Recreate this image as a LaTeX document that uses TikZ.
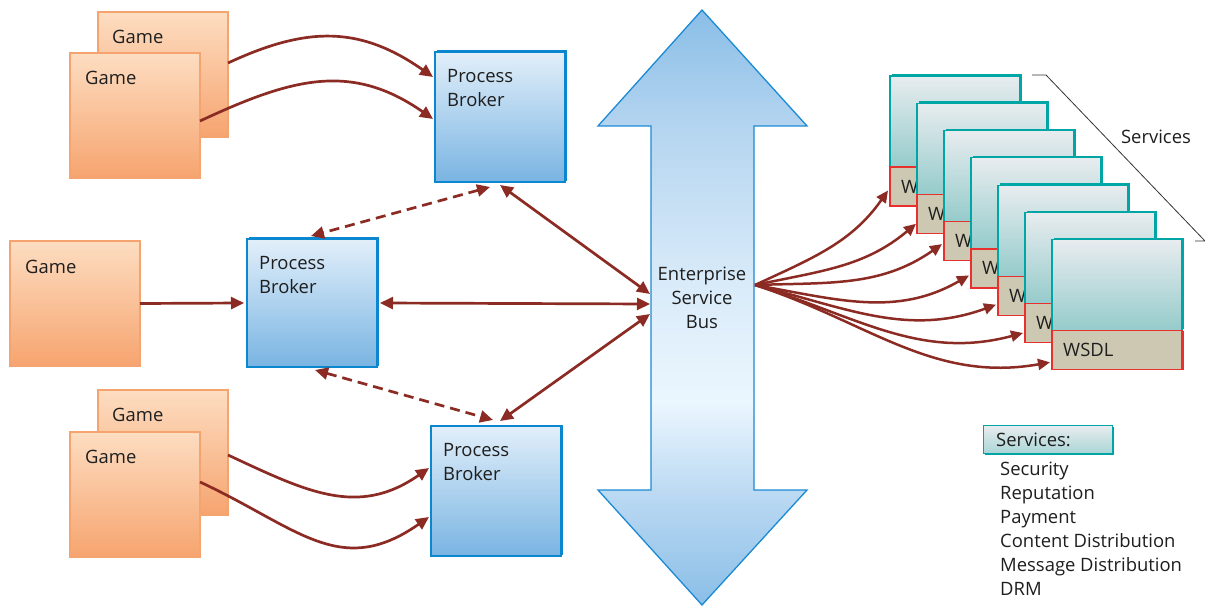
\documentclass[tikz,border=0pt]{standalone}
\usepackage{fontspec}
\setmainfont{Open Sans}
\usetikzlibrary{arrows.meta,shadows,calc}
\definecolor{arr}{HTML}{8B2B23}
\definecolor{txt}{HTML}{1E1E1E}
\definecolor{gameedge}{HTML}{F5A36F}
\definecolor{gametop}{HTML}{FDDDC1}
\definecolor{gamebot}{HTML}{F6A46F}
\definecolor{pbedge}{HTML}{0B87D0}
\definecolor{pbtop}{HTML}{E2EFFA}
\definecolor{pbbot}{HTML}{79B4E2}
\definecolor{esbedge}{HTML}{1A8AD4}
\definecolor{esbdark}{HTML}{8ABEE7}
\definecolor{esbbot}{HTML}{B9D8F2}
\definecolor{esblight}{HTML}{EBF6FE}
\definecolor{esbmid}{HTML}{D9EBF9}
\definecolor{esbtop}{HTML}{B5D5F0}
\definecolor{teal}{HTML}{00A5A5}
\definecolor{svctop}{HTML}{E8ECEF}
\definecolor{svcbot}{HTML}{95CBCB}
\definecolor{wsdlfill}{HTML}{CDC8B2}
\definecolor{wsdledge}{HTML}{E8302F}
\pgfdeclareverticalshading{esbshade}{100bp}{color(0bp)=(esbdark); color(25bp)=(esbdark); color(34bp)=(esbbot); color(42bp)=(esblight); color(52bp)=(esbmid); color(65bp)=(esbtop); color(75bp)=(esbdark); color(100bp)=(esbdark)}
\begin{document}
\begin{tikzpicture}[x=1bp,y=1bp,
  font=\fontsize{18.5}{24}\selectfont,
  gamebox/.style={draw=gameedge, line width=1.5bp, top color=gametop, bottom color=gamebot,
    minimum width=130bp, minimum height=125bp, anchor=north west, inner sep=0pt, outer sep=0pt},
  pbbox/.style={draw=pbedge, line width=1.2bp, top color=pbtop, bottom color=pbbot,
    general shadow={fill=pbedge, shadow xshift=2bp, shadow yshift=1.5bp},
    minimum width=130bp, minimum height=130bp, anchor=north west, inner sep=0pt, outer sep=0pt},
  svcbox/.style={draw=teal, line width=1.2bp, top color=svctop, bottom color=svcbot,
    general shadow={fill=teal, shadow xshift=1.8bp, shadow yshift=1.8bp},
    minimum width=130bp, minimum height=91bp, anchor=north west, inner sep=0pt, outer sep=0pt},
  wsdlbox/.style={draw=wsdledge, line width=1.2bp, fill=wsdlfill,
    general shadow={fill=wsdledge, shadow xshift=1.5bp, shadow yshift=0bp},
    minimum width=130bp, minimum height=39bp, anchor=north west, inner sep=0pt, outer sep=0pt},
  boxtext/.style={anchor=north west, inner sep=0pt, align=left, text=txt},
  conn/.style={draw=arr, line width=2.7bp, -{Triangle[length=13bp,width=12bp]}},
  dconn/.style={draw=arr, line width=2.7bp, {Triangle[length=13bp,width=12bp]}-{Triangle[length=13bp,width=12bp]}},
  dashconn/.style={dconn, dash pattern=on 10bp off 6bp},
  svcarrow/.style={draw=arr, line width=2.5bp, -{Triangle[length=12bp,width=11bp]}}
]
\useasboundingbox (0,0) rectangle (1205,-609);

% ---------- Enterprise Service Bus (double arrow) ----------
\path[draw=esbedge, line width=1.3bp, shading=esbshade]
  (702,-10) -- (807,-126) -- (754,-126) -- (754,-490) -- (807,-490) -- (702,-605)
  -- (598,-490) -- (651,-490) -- (651,-126) -- (598,-126) -- cycle;
\node[text=txt, align=center, inner sep=0pt] (esb) at (702,-298) {Enterprise\\Service\\Bus};
\coordinate (esbL1) at (650,-294);
\coordinate (esbL2) at (650,-304);
\coordinate (esbL3) at (650,-314);
\coordinate (esbR) at (755,-285);

% ---------- Games ----------
\node[gamebox] (g1b) at (98,-12) {};
\node[boxtext] (g1bt) at ($(g1b.north west)+(14,-18)$) {Game};
\node[gamebox] (g1f) at (70,-53) {};
\node[boxtext] (g1ft) at ($(g1f.north west)+(15,-18)$) {Game};

\node[gamebox] (g2) at (10,-241) {};
\node[boxtext] (g2t) at ($(g2.north west)+(15,-19)$) {Game};

\node[gamebox] (g3b) at (98,-390) {};
\node[boxtext] (g3bt) at ($(g3b.north west)+(14,-18)$) {Game};
\node[gamebox] (g3f) at (70,-432) {};
\node[boxtext] (g3ft) at ($(g3f.north west)+(15,-18)$) {Game};

% ---------- Process brokers ----------
\node[pbbox] (pb1) at (435,-52) {};
\node[boxtext] (pb1t) at ($(pb1.north west)+(12,-17)$) {Process\\Broker};
\node[pbbox, minimum height=128bp] (pb2) at (247,-239) {};
\node[boxtext] (pb2t) at ($(pb2.north west)+(12,-17)$) {Process\\Broker};
\node[pbbox] (pb3) at (431,-426) {};
\node[boxtext] (pb3t) at ($(pb3.north west)+(12,-17)$) {Process\\Broker};

% ---------- Game -> broker connectors ----------
\draw[conn] ($(g1b.north east)+(0,-51)$) to[out=25, in=145, looseness=1.1] ($(pb1.north west)+(-2,-25)$);
\draw[conn] ($(g1f.north east)+(0,-68)$) to[out=25, in=145, looseness=1.1] ($(pb1.north west)+(-2,-67)$);
\draw[conn] (g2.east) -- ($(pb2.west)+(-3,0)$);
\draw[conn] ($(g3b.north east)+(0,-65)$) to[out=-25, in=-145, looseness=1.1] ($(pb3.north west)+(-2,-42)$);
\draw[conn] ($(g3f.north east)+(0,-50)$) to[out=-25, in=-145, looseness=1.2] ($(pb3.north west)+(-2,-91)$);

% ---------- broker <-> broker / ESB ----------
\draw[dashconn] ($(pb1.south)+(-10,-5)$) -- ($(pb2.north)+(-1,3)$);
\draw[dashconn] ($(pb2.south)+(3,-3)$) -- ($(pb3.north)+(-3,6)$);
\draw[dconn] ($(pb1.south)+(0,-3)$) -- (esbL1);
\draw[dconn] ($(pb2.east)+(3,0)$) -- (esbL2);
\draw[dconn] ($(pb3.north)+(4,5)$) -- (esbL3);

% ---------- Services stack ----------
\foreach \k in {0,...,6} {
  \node[svcbox] (s\k) at ({890+27*\k},{-76-27.3*\k}) {};
  \node[wsdlbox, label={[anchor=west, xshift=11bp, inner sep=0pt, text=txt]west:WSDL}] (w\k) at (s\k.south west) {};
}

% ---------- ESB -> services ----------
\draw[svcarrow] (esbR) to[out=25, in=235] ($(w0.west)+(-2,-4)$);
\draw[svcarrow] (esbR) to[out=12, in=220] ($(w1.west)+(-1,-10)$);
\draw[svcarrow] (esbR) to[out=2, in=215] ($(w2.west)+(-2,-3)$);
\draw[svcarrow] (esbR) to[out=-10, in=210] ($(w3.west)+(-2,-7)$);
\draw[svcarrow] (esbR) to[out=-14, in=200] ($(w4.west)+(-2,-9)$);
\draw[svcarrow] (esbR) to[out=-17, in=195] ($(w5.west)+(-2,-10)$);
\draw[svcarrow] (esbR) to[out=-18, in=190] ($(w6.west)+(-2,-12)$);

% ---------- Services bracket ----------
\coordinate (brA) at (1032,-75);
\coordinate (brB) at (1046,-75);
\coordinate (brC) at (1205,-241);
\coordinate (brD) at (1195,-241);
\draw[line width=0.8bp, black!80] (brA) -- (brB) -- (brC) -- (brD);
\node[text=txt, inner sep=0pt] (svclabel) at (1156,-137) {Services};

% ---------- Legend ----------
\node[draw=teal, line width=1.2bp, top color=svctop, bottom color=svcbot!80,
  general shadow={fill=teal, shadow xshift=1.5bp, shadow yshift=-1.5bp},
  minimum width=129bp, minimum height=28bp, anchor=north west, inner sep=0pt] (leg) at (983,-425) {};
\node[anchor=west, inner sep=0pt, text=txt] (legt) at ($(leg.west)+(13,0)$) {Services:};
\node[anchor=north west, inner sep=0pt, align=left, text=txt] (legl) at (1000,-462)
  {Security\\Reputation\\Payment\\Content Distribution\\Message Distribution\\DRM};
\end{tikzpicture}
\end{document}
